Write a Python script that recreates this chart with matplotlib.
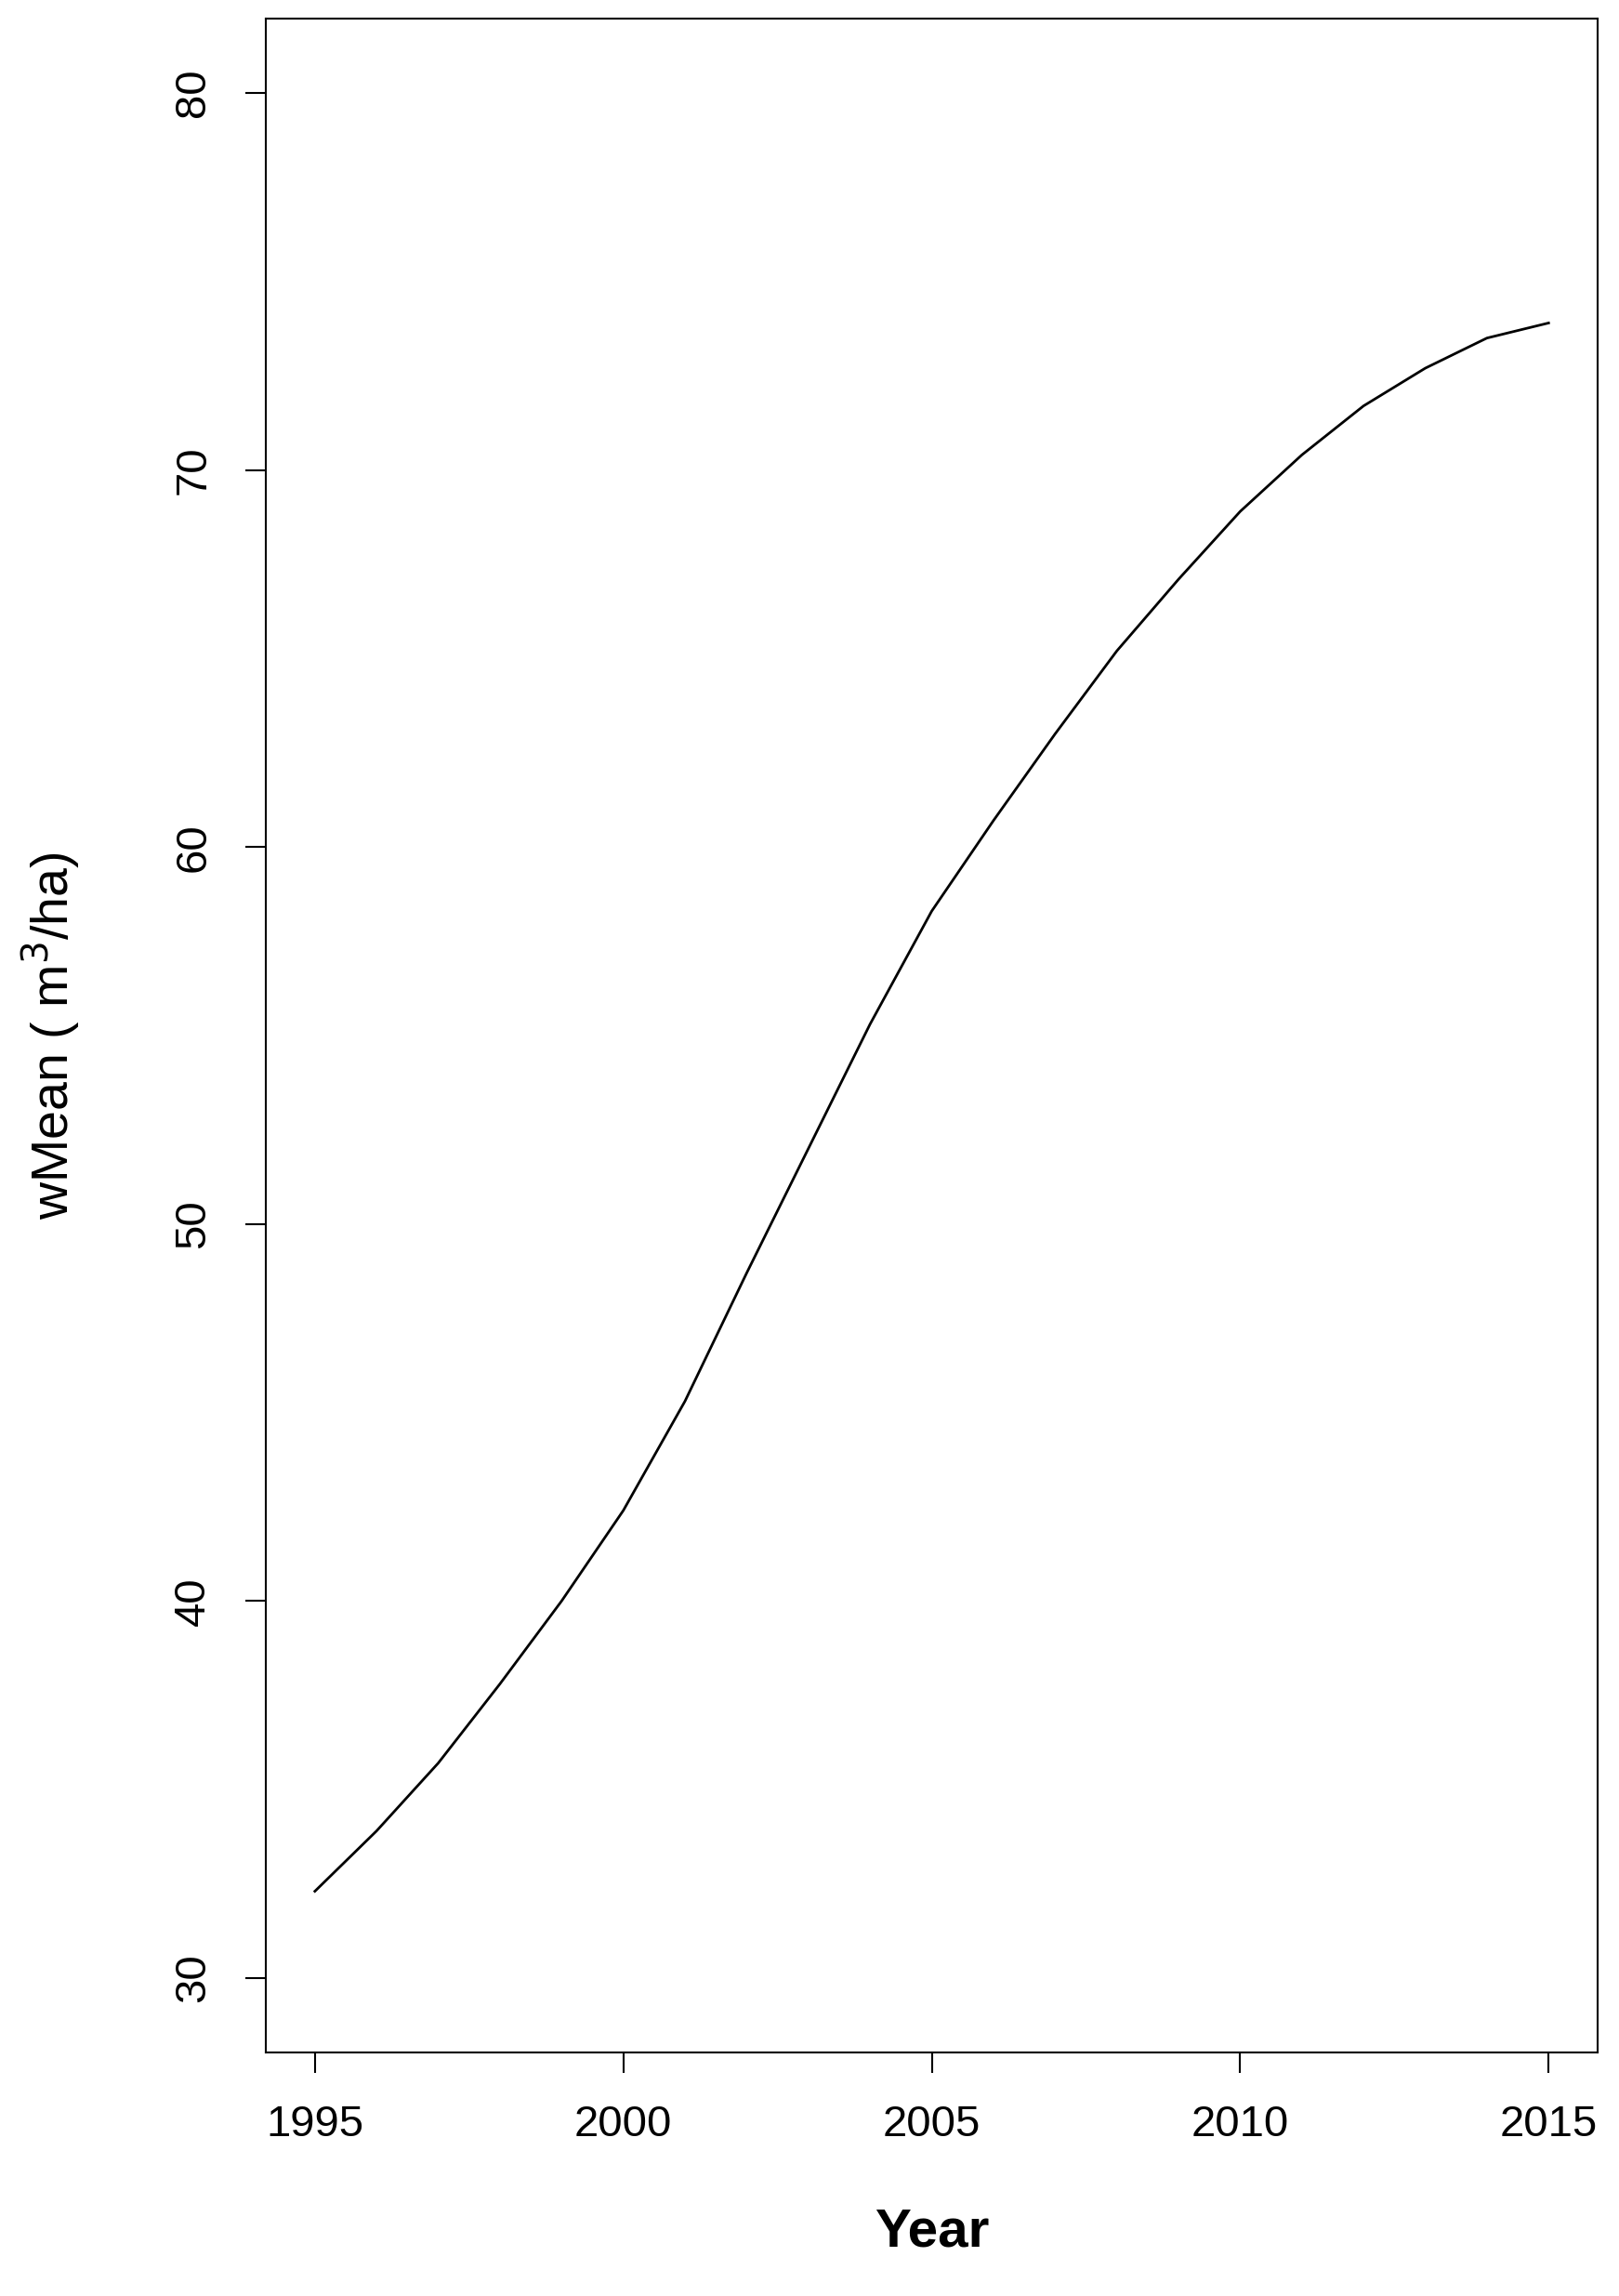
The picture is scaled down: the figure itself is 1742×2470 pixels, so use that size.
import matplotlib
matplotlib.use('Agg')
import matplotlib.pyplot as plt

plt.rcParams['font.family'] = ['Liberation Sans', 'DejaVu Sans']

years = list(range(1995, 2016))
wmean = [32.3, 33.9, 35.7, 37.8, 40.0, 42.4, 45.3, 48.7, 52.0, 55.3, 58.3,
         60.7, 63.0, 65.2, 67.1, 68.9, 70.4, 71.7, 72.7, 73.5, 73.9]
xticks = [1995, 2000, 2005, 2010, 2015]
yticks = [30, 40, 50, 60, 70, 80]

fig = plt.figure(figsize=(17.42, 24.70), dpi=100)
ax = fig.add_axes([0.164, 0.106, 0.823, 0.886])
ax.plot(years, wmean, color='black', lw=2)
ax.set_xlim(1994.2, 2015.8)
ax.set_ylim(28.02, 81.98)
ax.set_xticks(xticks)
ax.set_yticks(yticks)
ax.tick_params(labelsize=34, length=16, width=1.5, pad=24)
for lab in ax.get_yticklabels():
    lab.set_rotation(90)
    lab.set_va('center')
for s in ax.spines.values():
    s.set_linewidth(1.5)
ax.set_xlabel('Year', fontsize=42, fontweight='bold', labelpad=48)
ax.set_ylabel('wMean ( m$^3$/ha)', fontsize=40, labelpad=70)
fig.savefig('out.png', dpi=100)
